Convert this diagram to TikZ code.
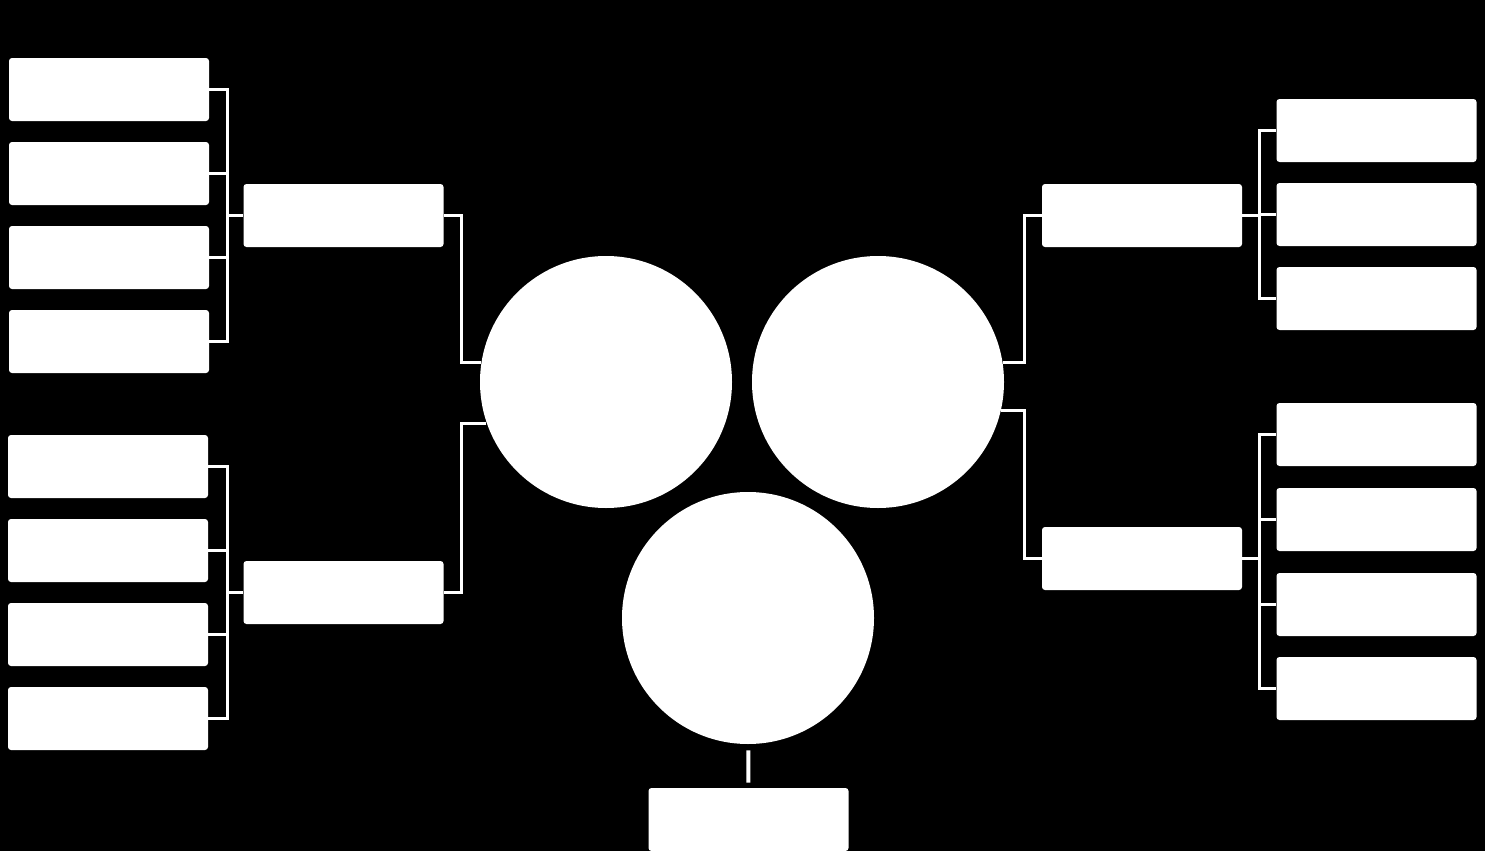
\documentclass[tikz,border=0pt]{standalone}
\usetikzlibrary{positioning}
\tikzset{
  box/.style={rectangle, fill=white, rounded corners=1.5pt, inner sep=0, minimum width=100pt, minimum height=31.5pt},
  hub/.style={circle, fill=white, inner sep=0, minimum size=126pt},
  wire/.style={draw=white, line width=1.5pt}
}
\begin{document}
\begin{tikzpicture}[x=0.5pt, y=-0.5pt]
\fill[black] (0,0) rectangle (1485,851);
\useasboundingbox (0,0) rectangle (1485,851);
% hubs
\node[hub] (hl) at (606,382) {};
\node[hub] (hr) at (878,382) {};
\node[hub] (hb) at (748,618) {};
% middle boxes
\node[box] (ma) at (343.5,215.5) {};
\node[box] (mb) at (343.5,592.5) {};
\node[box] (mc) at (1142,215.5) {};
\node[box] (md) at (1142,558.5) {};
\node[box] (me) at (748.5,819.5) {};
% leaves, left
\foreach \y/\n in {89.5/1,173.5/2,257.5/3,341.5/4} {
	\node[box] at (109,\y) (la\n) {};
	\draw[wire] (la\n.east) -| (227,215.5) -- (ma.west);
};
\foreach \y/\n in {466.5/1,550.5/2,634.5/3,718.5/4} {
	\node[box] at (108,\y) (lb\n) {};
	\draw[wire] (lb\n.east) -| (227,592.5) -- (mb.west);
};
% leaves, right
\foreach \y/\n in {130.5/1,214.5/2,298.5/3} {
	\node[box] at (1376.5,\y) (ra\n) {};
	\draw[wire] (mc.east) -| (1259,\y) -- (ra\n.west);
};
\foreach \y/\n in {434.5/1,519.5/2,604.5/3,688.5/4} {
	\node[box] at (1376.5,\y) (rb\n) {};
	\draw[wire] (md.east) -| (1259,\y) -- (rb\n.west);
};
% to the hubs
\draw[wire] (hl.171) -| (461,215.5) -- (ma.east);
\draw[wire] (hl.199) -| (461,592.5) -- (mb.east);
\draw[wire] (hr.9) -| (1024,215.5) -- (mc.west);
\draw[wire] (hr.-13) -| (1024,558.5) -- (md.west);
\draw[wire, line width=2pt, shorten <=3pt, shorten >=2.5pt] (hb) -- (me);
\end{tikzpicture}
\end{document}
